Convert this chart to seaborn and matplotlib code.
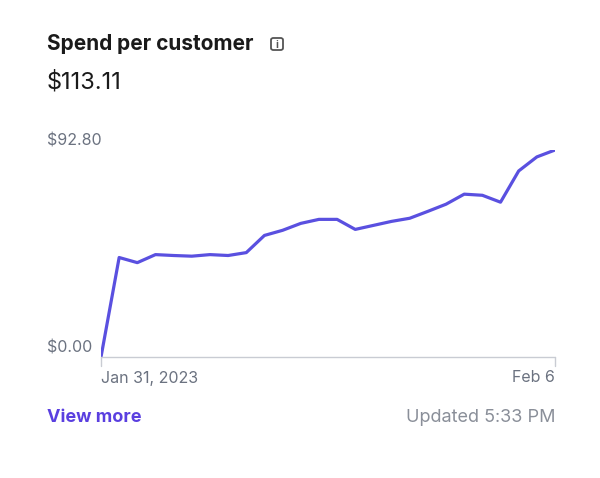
import matplotlib
matplotlib.use("Agg")
import matplotlib.pyplot as plt
import seaborn as sns
import pandas as pd
from matplotlib.patches import FancyBboxPatch

values = [0, 44.6, 42.3, 45.9, 45.5, 45.2, 45.9, 45.5, 46.8, 54.5, 56.8, 59.9, 61.7,
          61.7, 57.2, 59.0, 60.8, 62.2, 65.3, 68.5, 73.0, 72.5, 69.4, 83.4, 89.7, 92.8]
ymax = 92.80
x_labels = ["Jan 31, 2023", "Feb 6"]
title = "Spend per customer"
total = "$113.11"

sns.set_style("white")
plt.rcParams['font.family'] = ['Inter', 'DejaVu Sans']
W, H = 600, 478
fig = plt.figure(figsize=(W/100, H/100), dpi=100)
ax = fig.add_axes([101/W, 1-357/H, (555-101)/W, (357-150)/H])
df = pd.DataFrame({"i": range(len(values)), "v": values})
sns.lineplot(data=df, x="i", y="v", ax=ax, color="#5A50E0", linewidth=2.3)
ax.set_xlim(0, len(values)-1)
ax.set_ylim(0, ymax)
ax.axis("off")
ax.axhline(0, color="#c9ccd3", lw=1, clip_on=False)
for xx in (0, len(values)-1):
    ax.plot([xx, xx], [0, -4.0], color="#c9ccd3", lw=1, clip_on=False)

gray = "#6b7280"
def px(x, y, s, **kw):
    fig.text(x/W, 1-y/H, s, **kw)

px(47, 44, title, fontsize=15, fontweight="bold", color="#1a1a1a", va="center")
fig.patches.append(FancyBboxPatch((271/W, 1-50/H), 12/W, 12/H,
                   boxstyle="round,pad=0,rounding_size=0.004", fc="white", ec="#555",
                   lw=1.3, transform=fig.transFigure, figure=fig))
px(277, 44.5, "i", fontsize=7.5, fontweight="bold", color="#555", va="center", ha="center")
px(47, 82, total, fontsize=17, color="#1a1a1a", va="center")
px(47, 141, "$92.80", fontsize=11.5, color=gray, va="center")
px(47, 348, "$0.00", fontsize=11.5, color=gray, va="center")
px(101, 378, x_labels[0], fontsize=11.5, color=gray, va="center", ha="left")
px(555, 378, x_labels[1], fontsize=11.5, color=gray, va="center", ha="right")
px(47, 417, "View more", fontsize=13, fontweight="bold", color="#5A3FE0", va="center")
px(555, 417, "Updated 5:33 PM", fontsize=13, color="#8a8f99", va="center", ha="right")
fig.savefig("out.png", dpi=100)
